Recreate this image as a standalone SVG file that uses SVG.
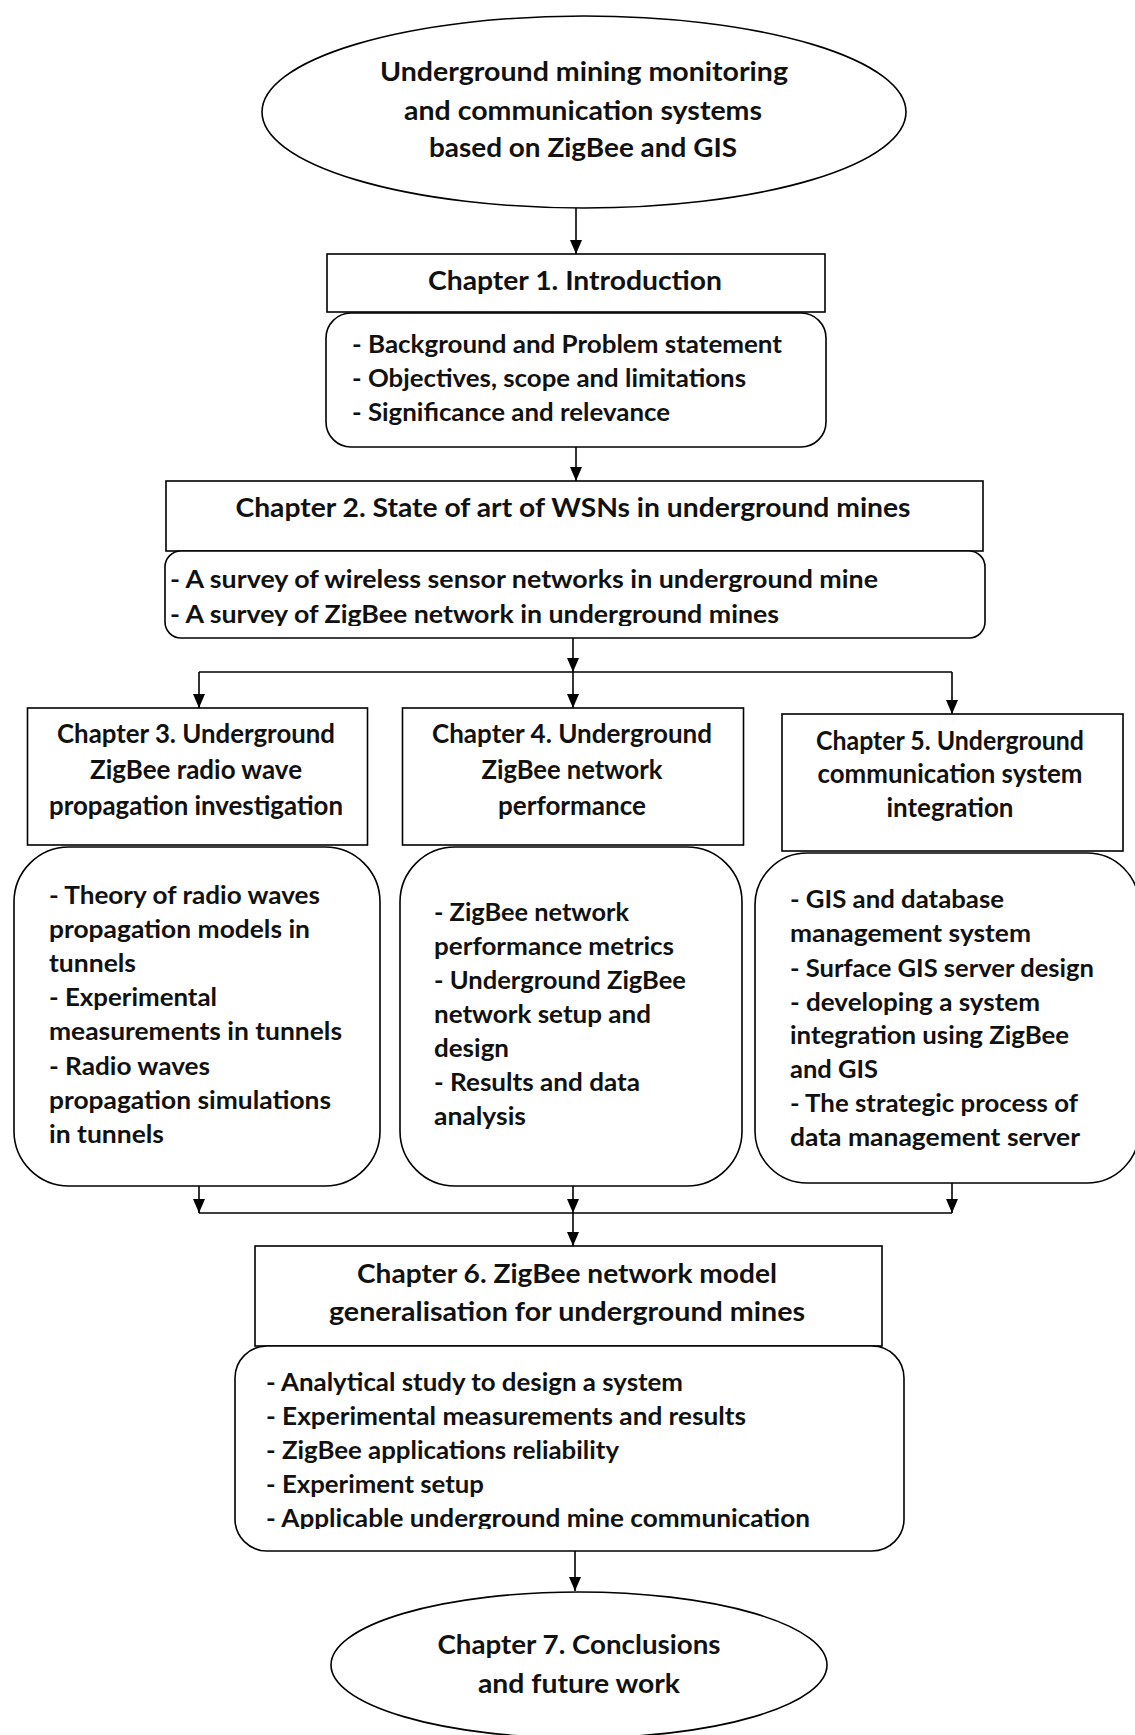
<svg xmlns="http://www.w3.org/2000/svg" width="1135" height="1735" viewBox="0 0 1135 1735">
  <style>
    .shape { fill: #ffffff; stroke: #000000; stroke-width: 1.6; }
    .wire { fill: none; stroke: #000000; stroke-width: 1.6; }
    text { font-family: Lato, "Open Sans", "Liberation Sans", sans-serif; font-weight: bold; fill: #111111; }
    .big { font-size: 27px; text-anchor: middle; }
    .head { font-size: 26px; text-anchor: middle; }
    .body { font-size: 24.5px; }
  </style>
  <defs>
    <marker id="arrow" viewBox="0 0 14 12" refX="14" refY="6" markerWidth="14" markerHeight="12" markerUnits="userSpaceOnUse" orient="auto">
      <path d="M0,0 L14,6 L0,12 Z" fill="#000000"/>
    </marker>
    <clipPath id="clip-ch2"><rect x="160" y="551" width="830" height="75"/></clipPath>
    <clipPath id="clip-ch6"><rect x="230" y="1346" width="680" height="183"/></clipPath>
  </defs>
  <rect x="0" y="0" width="1135" height="1735" fill="#ffffff"/>

  <!-- connectors -->
  <g id="connectors">
    <line class="wire" x1="576" y1="208" x2="576" y2="254" marker-end="url(#arrow)"/>
    <line class="wire" x1="576" y1="447" x2="576" y2="481" marker-end="url(#arrow)"/>
    <line class="wire" x1="573" y1="638" x2="573" y2="672" marker-end="url(#arrow)"/>
    <line class="wire" x1="199" y1="672" x2="952" y2="672"/>
    <line class="wire" x1="199" y1="672" x2="199" y2="708" marker-end="url(#arrow)"/>
    <line class="wire" x1="573" y1="672" x2="573" y2="708" marker-end="url(#arrow)"/>
    <line class="wire" x1="952" y1="672" x2="952" y2="714" marker-end="url(#arrow)"/>
    <line class="wire" x1="199" y1="1186" x2="199" y2="1213" marker-end="url(#arrow)"/>
    <line class="wire" x1="573" y1="1186" x2="573" y2="1213" marker-end="url(#arrow)"/>
    <line class="wire" x1="952" y1="1183" x2="952" y2="1213" marker-end="url(#arrow)"/>
    <line class="wire" x1="199" y1="1213" x2="952" y2="1213"/>
    <line class="wire" x1="573" y1="1213" x2="573" y2="1246" marker-end="url(#arrow)"/>
    <line class="wire" x1="575" y1="1551" x2="575" y2="1591" marker-end="url(#arrow)"/>
  </g>

  <!-- thesis title -->
  <g id="thesis">
    <ellipse class="shape" cx="584" cy="112" rx="322" ry="96"/>
    <text class="big" x="584" y="81" textLength="408" lengthAdjust="spacingAndGlyphs">Underground mining monitoring</text>
    <text class="big" x="583" y="120" textLength="358" lengthAdjust="spacingAndGlyphs">and communication systems</text>
    <text class="big" x="583" y="157" textLength="308" lengthAdjust="spacingAndGlyphs">based on ZigBee and GIS</text>
  </g>

  <!-- chapter 1 -->
  <g id="ch1">
    <rect class="shape" x="327" y="254" width="498" height="58"/>
    <text class="head" x="575" y="290" textLength="294" lengthAdjust="spacingAndGlyphs">Chapter 1. Introduction</text>
  </g>
  <g id="ch1-topics">
    <rect class="shape" x="326" y="313" width="500" height="134" rx="25" ry="25"/>
    <text class="body" x="352" y="353" textLength="430" lengthAdjust="spacingAndGlyphs">- Background and Problem statement</text>
    <text class="body" x="352" y="387" textLength="394" lengthAdjust="spacingAndGlyphs">- Objectives, scope and limitations</text>
    <text class="body" x="352" y="421" textLength="318" lengthAdjust="spacingAndGlyphs">- Significance and relevance</text>
  </g>

  <!-- chapter 2 -->
  <g id="ch2">
    <rect class="shape" x="166" y="481" width="817" height="70"/>
    <text class="head" x="573" y="517" textLength="675" lengthAdjust="spacingAndGlyphs">Chapter 2. State of art of WSNs in underground mines</text>
  </g>
  <g id="ch2-topics">
    <rect class="shape" x="165" y="551" width="820" height="87" rx="16" ry="16"/>
    <g clip-path="url(#clip-ch2)">
      <text class="body" x="170" y="588" textLength="708" lengthAdjust="spacingAndGlyphs">- A survey of wireless sensor networks in underground mine</text>
      <text class="body" x="170" y="623" textLength="609" lengthAdjust="spacingAndGlyphs">- A survey of ZigBee network in underground mines</text>
    </g>
  </g>

  <!-- chapter 3 -->
  <g id="ch3">
    <rect class="shape" x="27.5" y="708" width="340" height="137"/>
    <text class="head" x="196" y="743" textLength="278" lengthAdjust="spacingAndGlyphs">Chapter 3. Underground</text>
    <text class="head" x="196" y="779" textLength="212" lengthAdjust="spacingAndGlyphs">ZigBee radio wave</text>
    <text class="head" x="196" y="815" textLength="294" lengthAdjust="spacingAndGlyphs">propagation investigation</text>
  </g>
  <g id="ch3-topics">
    <rect class="shape" x="14" y="847" width="366" height="339" rx="55" ry="55"/>
    <text class="body" x="49" y="904" textLength="271" lengthAdjust="spacingAndGlyphs">- Theory of radio waves</text>
    <text class="body" x="49" y="938" textLength="261" lengthAdjust="spacingAndGlyphs">propagation models in</text>
    <text class="body" x="49" y="972" textLength="87" lengthAdjust="spacingAndGlyphs">tunnels</text>
    <text class="body" x="49" y="1006" textLength="168" lengthAdjust="spacingAndGlyphs">- Experimental</text>
    <text class="body" x="49" y="1040" textLength="293" lengthAdjust="spacingAndGlyphs">measurements in tunnels</text>
    <text class="body" x="49" y="1075" textLength="161" lengthAdjust="spacingAndGlyphs">- Radio waves</text>
    <text class="body" x="49" y="1109" textLength="282" lengthAdjust="spacingAndGlyphs">propagation simulations</text>
    <text class="body" x="49" y="1143" textLength="115" lengthAdjust="spacingAndGlyphs">in tunnels</text>
  </g>

  <!-- chapter 4 -->
  <g id="ch4">
    <rect class="shape" x="402.5" y="708" width="341" height="137"/>
    <text class="head" x="572" y="743" textLength="280" lengthAdjust="spacingAndGlyphs">Chapter 4. Underground</text>
    <text class="head" x="572" y="779" textLength="181" lengthAdjust="spacingAndGlyphs">ZigBee network</text>
    <text class="head" x="572" y="815" textLength="148" lengthAdjust="spacingAndGlyphs">performance</text>
  </g>
  <g id="ch4-topics">
    <rect class="shape" x="400" y="847" width="342" height="339" rx="55" ry="55"/>
    <text class="body" x="434" y="921" textLength="195" lengthAdjust="spacingAndGlyphs">- ZigBee network</text>
    <text class="body" x="434" y="955" textLength="240" lengthAdjust="spacingAndGlyphs">performance metrics</text>
    <text class="body" x="434" y="989" textLength="252" lengthAdjust="spacingAndGlyphs">- Underground ZigBee</text>
    <text class="body" x="434" y="1023" textLength="217" lengthAdjust="spacingAndGlyphs">network setup and</text>
    <text class="body" x="434" y="1057" textLength="75" lengthAdjust="spacingAndGlyphs">design</text>
    <text class="body" x="434" y="1091" textLength="206" lengthAdjust="spacingAndGlyphs">- Results and data</text>
    <text class="body" x="434" y="1125" textLength="92" lengthAdjust="spacingAndGlyphs">analysis</text>
  </g>

  <!-- chapter 5 -->
  <g id="ch5">
    <rect class="shape" x="782" y="714" width="341" height="137"/>
    <text class="head" x="950" y="750" textLength="268" lengthAdjust="spacingAndGlyphs">Chapter 5. Underground</text>
    <text class="head" x="950" y="783" textLength="265" lengthAdjust="spacingAndGlyphs">communication system</text>
    <text class="head" x="950" y="817" textLength="127" lengthAdjust="spacingAndGlyphs">integration</text>
  </g>
  <g id="ch5-topics">
    <rect class="shape" x="755" y="853" width="384" height="330" rx="52" ry="52"/>
    <text class="body" x="790" y="908" textLength="214" lengthAdjust="spacingAndGlyphs">- GIS and database</text>
    <text class="body" x="790" y="942" textLength="241" lengthAdjust="spacingAndGlyphs">management system</text>
    <text class="body" x="790" y="977" textLength="304" lengthAdjust="spacingAndGlyphs">- Surface GIS server design</text>
    <text class="body" x="790" y="1011" textLength="250" lengthAdjust="spacingAndGlyphs">- developing a system</text>
    <text class="body" x="790" y="1044" textLength="279" lengthAdjust="spacingAndGlyphs">integration using ZigBee</text>
    <text class="body" x="790" y="1078" textLength="88" lengthAdjust="spacingAndGlyphs">and GIS</text>
    <text class="body" x="790" y="1112" textLength="288" lengthAdjust="spacingAndGlyphs">- The strategic process of</text>
    <text class="body" x="790" y="1146" textLength="290" lengthAdjust="spacingAndGlyphs">data management server</text>
  </g>

  <!-- chapter 6 -->
  <g id="ch6">
    <rect class="shape" x="255" y="1246" width="627" height="100"/>
    <text class="head" x="567" y="1283" textLength="420" lengthAdjust="spacingAndGlyphs">Chapter 6. ZigBee network model</text>
    <text class="head" x="567" y="1321" textLength="476" lengthAdjust="spacingAndGlyphs">generalisation for underground mines</text>
  </g>
  <g id="ch6-topics">
    <rect class="shape" x="235" y="1346" width="669" height="205" rx="32" ry="32"/>
    <g clip-path="url(#clip-ch6)">
      <text class="body" x="266" y="1391" textLength="417" lengthAdjust="spacingAndGlyphs">- Analytical study to design a system</text>
      <text class="body" x="266" y="1425" textLength="480" lengthAdjust="spacingAndGlyphs">- Experimental measurements and results</text>
      <text class="body" x="266" y="1459" textLength="353" lengthAdjust="spacingAndGlyphs">- ZigBee applications reliability</text>
      <text class="body" x="266" y="1493" textLength="218" lengthAdjust="spacingAndGlyphs">- Experiment setup</text>
      <text class="body" x="266" y="1527" textLength="544" lengthAdjust="spacingAndGlyphs">- Applicable underground mine communication</text>
    </g>
  </g>

  <!-- chapter 7 -->
  <g id="ch7">
    <ellipse class="shape" cx="579" cy="1665" rx="248" ry="73"/>
    <text class="head" x="579" y="1654" textLength="283" lengthAdjust="spacingAndGlyphs">Chapter 7. Conclusions</text>
    <text class="head" x="579" y="1693" textLength="202" lengthAdjust="spacingAndGlyphs">and future work</text>
  </g>
</svg>
